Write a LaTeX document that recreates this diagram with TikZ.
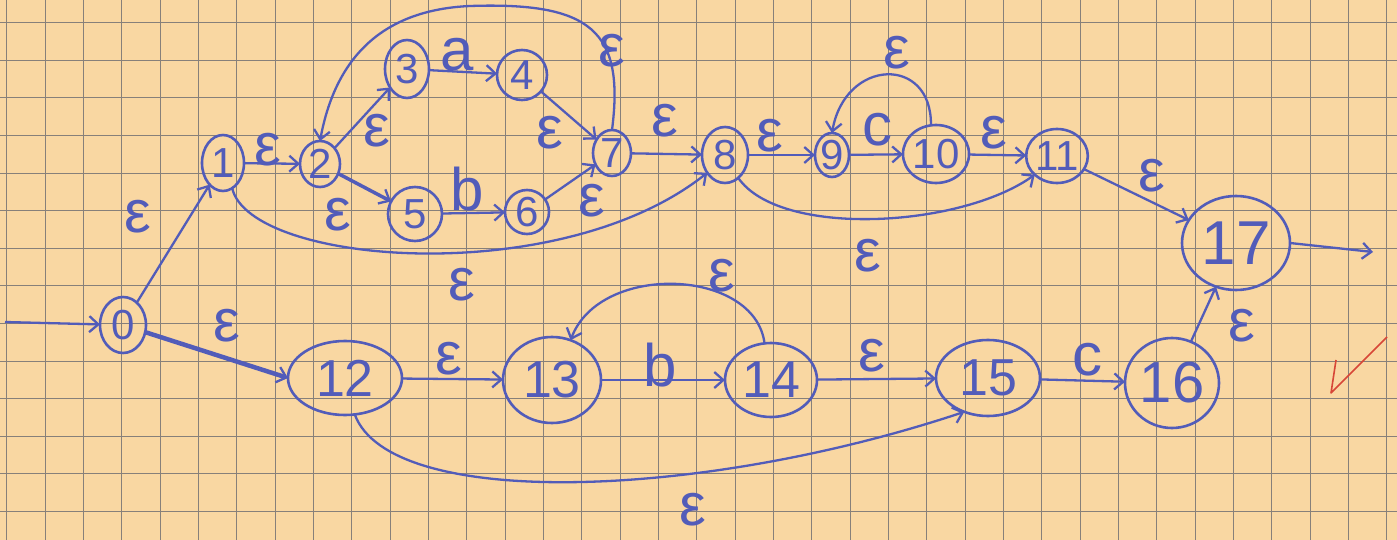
\documentclass[tikz,border=0pt]{standalone}
\usepackage{fontspec}
\setmainfont{Liberation Sans}
\usetikzlibrary{arrows.meta,shapes.geometric}
\definecolor{paper}{RGB}{249,215,162}
\definecolor{gridc}{RGB}{135,128,122}
\definecolor{ink}{RGB}{82,92,185}
\definecolor{redpen}{RGB}{215,70,55}
\begin{document}
\begin{tikzpicture}[x=1pt,y=-1pt,
 st/.style={ellipse,draw=ink,line width=2.6pt,inner sep=0pt,outer sep=0pt,text=ink,font=\fontsize{42}{42}\selectfont},
 bigst/.style={st,font=\fontsize{52}{52}\selectfont},
 arr/.style={draw=ink,line width=2.3pt,-{Straight Barb[length=9pt,width=16pt,line width=2.3pt]}},
 thickarr/.style={arr,line width=4.5pt},
 lbl/.style={text=ink,font=\fontsize{60}{60}\selectfont,inner sep=0pt},
]
\useasboundingbox (0,0) rectangle (1397,540);
\fill[paper] (0,0) rectangle (1397,540);
\foreach \k in {0,...,36} \draw[gridc,line width=1.2pt] ({round(6.3+38.33*\k)+0.5},0) -- ({round(6.3+38.33*\k)+0.5},540);
\foreach \k in {0,...,13} \draw[gridc,line width=1.2pt] (0,{round(22.2+37.6*\k)+0.5}) -- (1397,{round(22.2+37.6*\k)+0.5});

% states
\node[st,minimum width=46,minimum height=56] (n0) at (123,325) {0};
\node[st,minimum width=42,minimum height=56] (n1) at (223,163) {1};
\node[st,minimum width=40,minimum height=46] (n2) at (320,164) {2};
\node[st,minimum width=44,minimum height=58] (n3) at (407,69) {3};
\node[st,minimum width=50,minimum height=50] (n4) at (522,75) {4};
\node[st,minimum width=54,minimum height=54] (n5) at (415,214) {5};
\node[st,minimum width=44,minimum height=44] (n6) at (527,212) {6};
\node[st,minimum width=38,minimum height=46] (n7) at (612,153) {7};
\node[st,minimum width=46,minimum height=56] (n8) at (725,155) {8};
\node[st,minimum width=34,minimum height=44] (n9) at (832,155) {9};
\node[st,minimum width=62,minimum height=58] (n10) at (936,154) {10};
\node[st,minimum width=58,minimum height=54] (n11) at (1057,156) {11};
\node[bigst,minimum width=108,minimum height=94,font=\fontsize{62}{62}\selectfont] (n17) at (1236,243) {17};
\node[bigst,minimum width=114,minimum height=74] (n12) at (345,378) {12};
\node[bigst,minimum width=98,minimum height=86] (n13) at (552,380) {13};
\node[bigst,minimum width=92,minimum height=74] (n14) at (771,380) {14};
\node[bigst,minimum width=104,minimum height=76] (n15) at (988,378) {15};
\node[bigst,minimum width=94,minimum height=90,font=\fontsize{58}{58}\selectfont] (n16) at (1172,383) {16};

\coordinate (start) at (5,322);
\coordinate (final) at (1373,252);

% transitions
\draw[arr] (start) -- (n0);
\draw[arr] (n0) -- (n1) node[lbl,at={(138,217)}] {ε};
\draw[thickarr] (n0) -- (n12.west) node[lbl,at={(227,326)}] {ε};
\draw[arr] (n1) -- (n2) node[lbl,at={(268,150)}] {ε};
\draw[arr] (n2) -- (n3) node[lbl,at={(377,131)}] {ε};
\draw[arr,line width=3.5pt] (n2) -- (n5) node[lbl,at={(338,215)}] {ε};
\draw[arr] (n3) -- (n4) node[lbl,at={(457,55)}] {a};
\draw[arr] (n5) -- (n6) node[lbl,at={(467,189)}] {b};
\draw[arr] (n4) -- (n7) node[lbl,at={(550,133)}] {ε};
\draw[arr] (n6) -- (n7) node[lbl,at={(592,201)}] {ε};
\draw[arr] (n7.north) .. controls (625,30) and (590,2) .. (470,6)
  .. controls (380,10) and (335,60) .. (n2.north) node[lbl,at={(612,51)}] {ε};
\draw[arr] (n7) -- (n8) node[lbl,at={(665,121)}] {ε};
\draw[arr] (n1.-70) .. controls (250,265) and (560,290) .. (n8.225) node[lbl,at={(462,285)}] {ε};
\draw[arr] (n8) -- (n9) node[lbl,at={(770,136)}] {ε};
\draw[arr] (n9) -- (n10) node[lbl,at={(877,130)}] {c};
\draw[arr] (n10.100) .. controls (932,55) and (845,58) .. (n9.north) node[lbl,at={(897,53)}] {ε};
\draw[arr] (n10) -- (n11) node[lbl,at={(994,133)}] {ε};
\draw[arr] (n8.-60) .. controls (780,238) and (960,228) .. (n11.220) node[lbl,at={(868,256)}] {ε};
\draw[arr] (n11) -- (n17) node[lbl,at={(1152,176)}] {ε};
\draw[arr] (n17.east) -- (final);
\draw[arr] (n12) -- (n13) node[lbl,at={(449,359)}] {ε};
\draw[arr] (n13) -- (n14) node[lbl,at={(660,365)}] {b};
\draw[arr] (n14.100) .. controls (755,268) and (600,262) .. (n13.65) node[lbl,at={(722,276)}] {ε};
\draw[arr] (n14) -- (n15) node[lbl,at={(872,356)}] {ε};
\draw[arr] (n15) -- (n16) node[lbl,at={(1087,360)}] {c};
\draw[arr] (n12.-75) .. controls (390,510) and (700,500) .. (n15.235) node[lbl,at={(693,510)}] {ε};
\draw[arr] (n16) -- (n17) node[lbl,at={(1242,326)}] {ε};

% teacher's check mark
\draw[redpen,line width=1.6pt,line join=round] (1336,360) -- (1331,393) -- (1387,337);
\end{tikzpicture}
\end{document}
